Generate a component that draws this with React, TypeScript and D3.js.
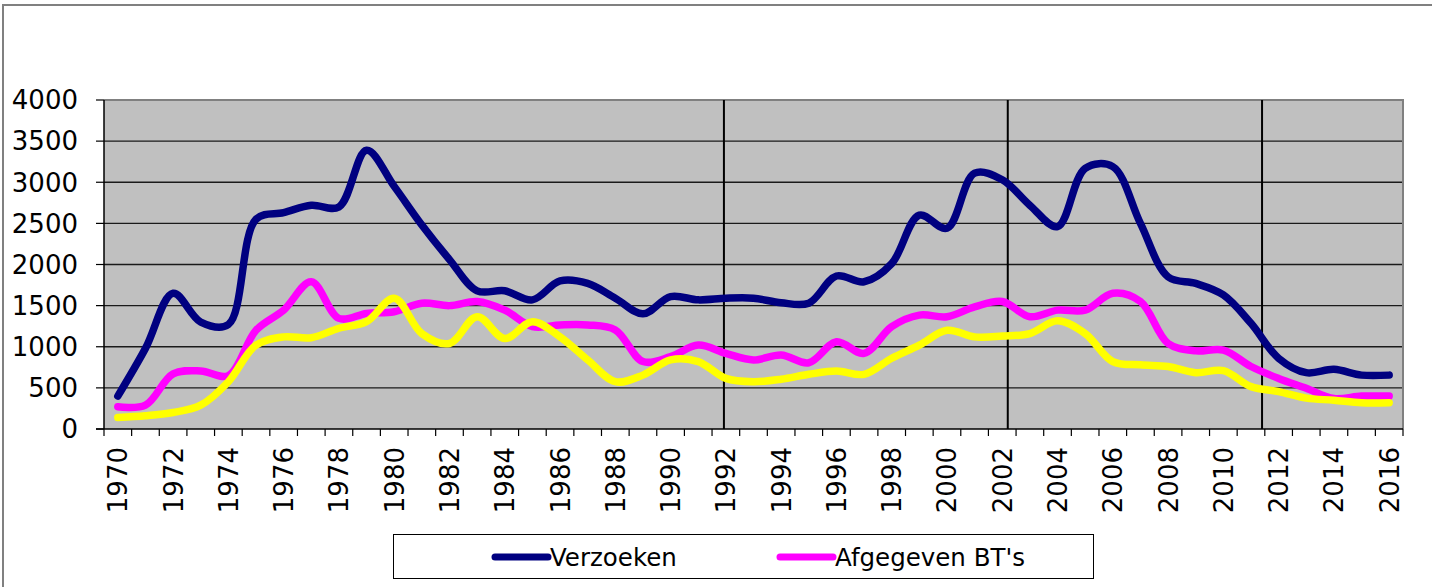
import React, { useEffect, useRef } from 'react';
import * as d3 from 'd3';

// years on the x axis
const years: number[] = d3.range(1970, 2017);

// Verzoeken (navy)
const verzoeken: number[] = [
  400, 980, 1650, 1300, 1270, 2550, 2630, 2720, 2700, 3390,
  2950, 2480, 2060, 1680, 1680, 1570, 1800, 1770, 1590, 1400,
  1610, 1570, 1590, 1590, 1535, 1530, 1860, 1790, 2010, 2600,
  2440, 3110, 3030, 2720, 2460, 3170, 3190, 2500, 1850, 1770,
  1630, 1285, 860, 685, 725, 655, 655,
];

// Afgegeven BT's (magenta)
const afgegeven: number[] = [
  270, 290, 670, 705, 650, 1200, 1445, 1790, 1345, 1405,
  1425, 1530, 1500, 1550, 1445, 1245, 1265, 1265, 1205, 820,
  880, 1020, 920, 840, 900, 805, 1060, 920, 1245, 1385,
  1365, 1485, 1550, 1365, 1445, 1445, 1650, 1550, 1040, 950,
  960, 760, 615, 495, 370, 400, 400,
];

// third series, not in the legend (yellow)
const derde: number[] = [
  140, 160, 200, 290, 575, 1020, 1120, 1110, 1225, 1305,
  1590, 1160, 1040, 1365, 1100, 1305, 1120, 840, 575, 655,
  840, 820, 615, 575, 605, 665, 705, 665, 860, 1020,
  1200, 1120, 1130, 1160, 1315, 1160, 820, 780, 760, 685,
  710, 515, 455, 375, 350, 320, 320,
];

const yTicks: number[] = [0, 500, 1000, 1500, 2000, 2500, 3000, 3500, 4000];

// vertical separator lines (year position)
const periodBreaks: number[] = [1991.93, 2002.2, 2011.4];

const App = () => {
  const chartRef = useRef<HTMLDivElement>(null);

  useEffect(() => {
    drawChart(chartRef.current);
  }, []);

  const drawChart = (element: HTMLDivElement | null) => {
    if (!element) return;
    d3.select(element).select('svg').remove();

    const W = 1432, H = 587;
    const left = 104, right = 1403, top = 100, bottom = 429;
    const font = 'DejaVu Sans, Verdana, sans-serif';

    const svg = d3.select(element)
      .append('svg')
      .attr('width', W)
      .attr('height', H)
      .style('position', 'absolute')
      .style('left', 0)
      .style('top', 0);

    svg.append('rect').attr('width', W).attr('height', H).attr('fill', '#fff');

    // outer frame (only top and left visible)
    svg.append('path')
      .attr('d', `M3,${H} L3,5 L${W},5`)
      .attr('fill', 'none')
      .attr('stroke', '#808080')
      .attr('stroke-width', 2);

    const x = d3.scaleBand<number>().domain(years).range([left, right]).padding(0);
    const bw = x.bandwidth();
    const cx = (yr: number) => (x(yr) as number) + bw / 2;
    const xLin = d3.scaleLinear().domain([1970, 2016]).range([cx(1970), cx(2016)]);
    const y = d3.scaleLinear().domain([0, 4000]).range([bottom, top]);

    // plot background
    svg.append('rect')
      .attr('x', left).attr('y', top)
      .attr('width', right - left).attr('height', bottom - top)
      .attr('fill', '#c0c0c0');

    // horizontal gridlines
    svg.append('g').selectAll('line')
      .data(yTicks.filter((d) => d > 0 && d < 4000))
      .enter().append('line')
      .attr('x1', left).attr('x2', right)
      .attr('y1', (d) => y(d)).attr('y2', (d) => y(d))
      .attr('stroke', '#1a1a1a')
      .attr('stroke-width', 1.3);

    // plot border top / right
    svg.append('path')
      .attr('d', `M${left},${top} L${right},${top} L${right},${bottom}`)
      .attr('fill', 'none')
      .attr('stroke', '#808080')
      .attr('stroke-width', 2);

    // period separators
    svg.append('g').selectAll('line')
      .data(periodBreaks)
      .enter().append('line')
      .attr('x1', (d) => xLin(d)).attr('x2', (d) => xLin(d))
      .attr('y1', top).attr('y2', bottom)
      .attr('stroke', '#000')
      .attr('stroke-width', 2);

    // axes lines
    svg.append('line')
      .attr('x1', left).attr('x2', left).attr('y1', top).attr('y2', bottom)
      .attr('stroke', '#000').attr('stroke-width', 1.5);
    svg.append('line')
      .attr('x1', left - 8).attr('x2', right).attr('y1', bottom).attr('y2', bottom)
      .attr('stroke', '#000').attr('stroke-width', 1.5);

    // y ticks + labels
    const yAxis = svg.append('g');
    yAxis.selectAll('line')
      .data(yTicks)
      .enter().append('line')
      .attr('x1', left - 8).attr('x2', left)
      .attr('y1', (d) => y(d)).attr('y2', (d) => y(d))
      .attr('stroke', '#000').attr('stroke-width', 1.2);
    yAxis.selectAll('text')
      .data(yTicks)
      .enter().append('text')
      .attr('x', 78)
      .attr('y', (d) => y(d))
      .attr('dy', '0.36em')
      .attr('text-anchor', 'end')
      .attr('font-family', font)
      .attr('font-size', 26)
      .attr('fill', '#000')
      .text((d) => d);

    // x ticks at category boundaries
    const boundaries = [...years.map((yr) => x(yr) as number), right];
    svg.append('g').selectAll('line')
      .data(boundaries)
      .enter().append('line')
      .attr('x1', (d) => d).attr('x2', (d) => d)
      .attr('y1', bottom).attr('y2', bottom + 7)
      .attr('stroke', '#000').attr('stroke-width', 1.2);

    // x labels every second year, rotated
    svg.append('g').selectAll('text')
      .data(years.filter((yr) => yr % 2 === 0))
      .enter().append('text')
      .attr('transform', (yr) => `translate(${cx(yr) + 9.5},447) rotate(-90)`)
      .attr('text-anchor', 'end')
      .attr('font-family', font)
      .attr('font-size', 26)
      .attr('fill', '#000')
      .text((yr) => yr);

    // series lines
    const line = d3.line<number>()
      .x((_, i) => cx(years[i]))
      .y((d) => y(d))
      .curve(d3.curveCatmullRom.alpha(0.5));

    const series = [
      { name: 'Verzoeken', values: verzoeken, color: '#000080' },
      { name: "Afgegeven BT's", values: afgegeven, color: '#ff00ff' },
      { name: 'Derde', values: derde, color: '#ffff00' },
    ];

    svg.append('g').selectAll('path')
      .data(series)
      .enter().append('path')
      .attr('d', (s) => line(s.values))
      .attr('fill', 'none')
      .attr('stroke', (s) => s.color)
      .attr('stroke-width', 7.5)
      .attr('stroke-linecap', 'round')
      .attr('stroke-linejoin', 'round');

    // legend
    const legend = svg.append('g');
    legend.append('rect')
      .attr('x', 393.5).attr('y', 534.5)
      .attr('width', 700).attr('height', 44)
      .attr('fill', '#fff')
      .attr('stroke', '#000')
      .attr('stroke-width', 1);

    const legendItems = [
      { ...series[0], x0: 495 },
      { ...series[1], x0: 780 },
    ];
    const li = legend.selectAll('g.item')
      .data(legendItems)
      .enter().append('g')
      .attr('class', 'item');
    li.append('line')
      .attr('x1', (d) => d.x0).attr('x2', (d) => d.x0 + 53)
      .attr('y1', 557).attr('y2', 557)
      .attr('stroke', (d) => d.color)
      .attr('stroke-width', 7)
      .attr('stroke-linecap', 'round');
    li.append('text')
      .attr('x', (d) => d.x0 + 55)
      .attr('y', 557)
      .attr('dy', '0.36em')
      .attr('font-family', font)
      .attr('font-size', 24.5)
      .attr('fill', '#000')
      .text((d) => d.name);
  };

  return <div ref={chartRef}></div>;
};

export default App;
